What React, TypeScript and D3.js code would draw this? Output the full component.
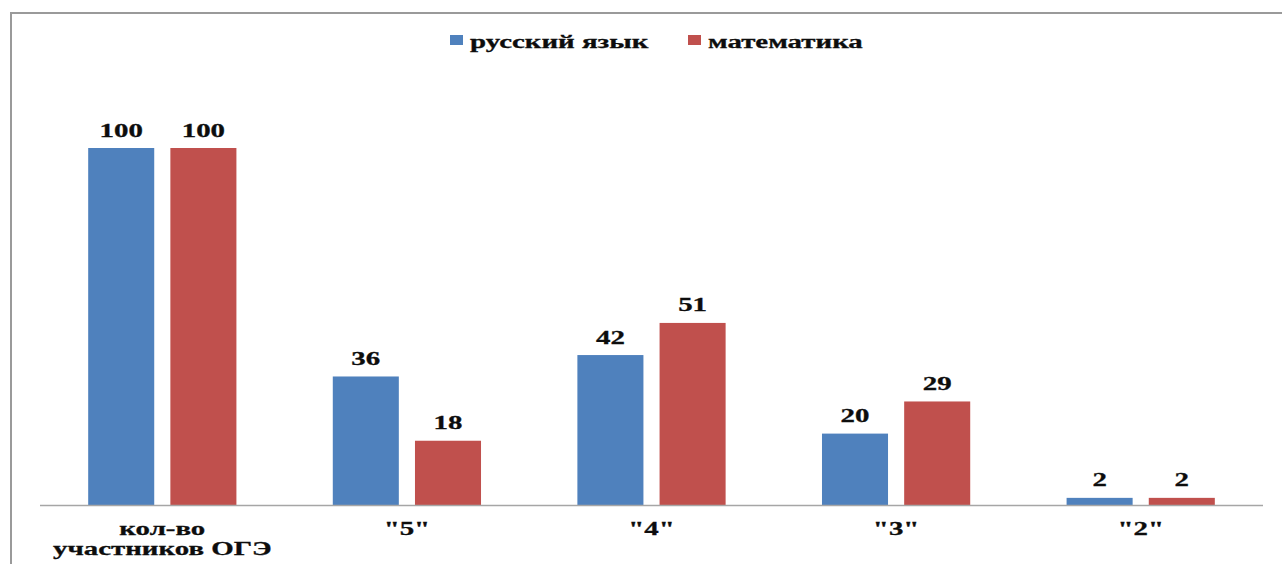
import React from "react";
import * as d3 from "d3";

const categories: string[][] = [["кол-во", "участников ОГЭ"], ['"5"'], ['"4"'], ['"3"'], ['"2"']];
const russian: number[] = [100, 36, 42, 20, 2];
const math: number[] = [100, 18, 51, 29, 2];
const seriesNames: string[] = ["русский язык", "математика"];
const colors: string[] = ["#4F81BD", "#C0504D"];

const W = 1282;
const H = 564;
const FONT = "Liberation Serif, Times New Roman, Tinos, serif";
const SX = 1.52;

function SText({ x, y, children, anchor = "middle", size = 19 }: any) {
  return (
    <text
      transform={`translate(${x},${y}) scale(${SX},1)`}
      textAnchor={anchor}
      style={{ fontFamily: FONT, fontWeight: 700, fontSize: size }}
      fill="#0d0d0d"
      stroke="#0d0d0d"
      strokeWidth={0.3}
    >
      {children}
    </text>
  );
}

export default function App() {
  const keys = categories.map((_, i) => String(i));
  const x0 = d3.scaleBand<string>().domain(keys).range([40, 1263]).padding(0);
  const bw = x0.bandwidth();
  const barW = bw * 0.27;
  const gap = bw * 0.066;
  const y = d3.scaleLinear().domain([0, 100]).range([505, 148]);
  const series = [russian, math];

  return (
    <svg
      width={W}
      height={H}
      style={{ position: "absolute", left: 0, top: 0, background: "#fff" }}
    >
      <rect x={0} y={0} width={W} height={H} fill="#fff" />
      {/* frame */}
      <path d={`M11,${H} L11,13 L${W},13`} fill="none" stroke="#9a9a9a" strokeWidth={2} />

      {/* legend */}
      <rect x={450} y={35} width={13} height={10} fill={colors[0]} />
      <SText x={470} y={48} anchor="start">{seriesNames[0]}</SText>
      <rect x={688} y={35} width={13} height={10} fill={colors[1]} />
      <SText x={708} y={48} anchor="start">{seriesNames[1]}</SText>

      {/* bars */}
      {series.map((vals, si) =>
        vals.map((v, i) => {
          const c = (x0(keys[i]) as number) + bw / 2;
          const bx = si === 0 ? c - gap / 2 - barW : c + gap / 2;
          return (
            <g key={`${si}-${i}`}>
              <rect x={bx} y={y(v)} width={barW} height={y(0) - y(v)} fill={colors[si]} />
              <SText x={bx + barW / 2} y={y(v) - 11.5}>{v}</SText>
            </g>
          );
        })
      )}

      {/* axis */}
      <line x1={40} x2={1263} y1={505.5} y2={505.5} stroke="#a6a6a6" strokeWidth={1.5} />

      {/* category labels */}
      {categories.map((lines, i) => {
        const c = (x0(keys[i]) as number) + bw / 2;
        return (
          <g key={i}>
            {lines.map((t, li) => (
              <SText key={li} x={c} y={535 + li * 19.5}>{t}</SText>
            ))}
          </g>
        );
      })}
    </svg>
  );
}
